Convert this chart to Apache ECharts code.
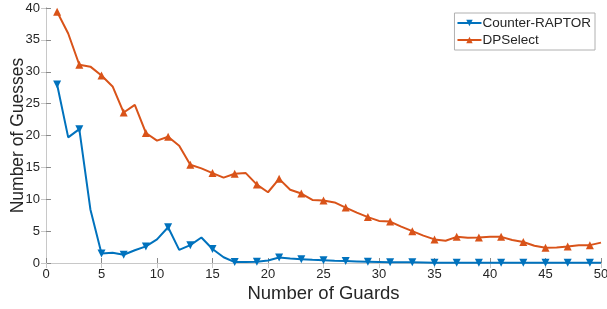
<!DOCTYPE html>
<html>
<head>
<meta charset="utf-8">
<script src="https://cdn.jsdelivr.net/npm/echarts@6/dist/echarts.min.js"></script>
<style>
  html, body { margin: 0; padding: 0; background: #fff; }
  #chart { width: 607px; height: 309px; }
</style>
</head>
<body>
<div id="chart"></div>
<script>
  // number of guards, 1..50
  var guards = [];
  for (var g = 1; g <= 50; g++) guards.push(g);

  var counterRaptor = [28.0, 19.7, 21.0, 8.4, 1.5, 1.6, 1.3, 2.0, 2.6, 3.7,
    5.6, 2.05, 2.8, 4.0, 2.2, 0.9, 0.15, 0.15, 0.2, 0.4,
    0.85, 0.7, 0.6, 0.5, 0.45, 0.35, 0.3, 0.25, 0.2, 0.15,
    0.1, 0.1, 0.1, 0.08, 0.05, 0.05, 0.05, 0.05, 0.05, 0.05,
    0.05, 0.04, 0.04, 0.04, 0.04, 0.03, 0.03, 0.03, 0.03, 0.03];

  var dpSelect = [39.4, 36.0, 31.1, 30.8, 29.4, 27.7, 23.6, 24.8, 20.4, 19.2,
    19.8, 18.4, 15.4, 14.85, 14.1, 13.4, 14.0, 14.1, 12.3, 11.1,
    13.2, 11.5, 10.9, 9.9, 9.8, 9.5, 8.7, 7.9, 7.2, 6.6,
    6.5, 5.7, 5.0, 4.3, 3.7, 3.5, 4.1, 3.95, 4.0, 4.1,
    4.1, 3.6, 3.3, 2.7, 2.4, 2.45, 2.6, 2.8, 2.8, 3.2];

  var xTicks = [0, 5, 10, 15, 20, 25, 30, 35, 40, 45, 50];
  var yTicks = [0, 5, 10, 15, 20, 25, 30, 35, 40];

  var axisColor = '#8a8a8a';
  var textColor = '#262626';
  var font = 'Liberation Sans, Arial, sans-serif';

  // markers on every other point, like the original plot
  function toPoints(vals) {
    return guards.map(function (x, i) {
      var p = { value: [x, vals[i]] };
      if (x % 2 === 0) p.symbol = 'none';
      return p;
    });
  }

  var chart = echarts.init(document.getElementById('chart'));
  chart.setOption({
    animation: false,
    grid: { left: 46, right: 6, top: 8, bottom: 46, outerBoundsMode: 'none', containLabel: false },
    legend: {
      right: 12, top: 13,
      orient: 'vertical',
      backgroundColor: '#fff',
      borderColor: '#b0b0b0',
      borderWidth: 1,
      borderRadius: 0,
      padding: [3, 4, 3, 2],
      itemGap: 3,
      itemWidth: 24,
      itemHeight: 8,
      textStyle: { fontFamily: font, fontSize: 13.5, color: textColor, padding: [0, 0, 0, -4] },
      data: ['Counter-RAPTOR', 'DPSelect']
    },
    xAxis: [{
      type: 'value', min: xTicks[0], max: xTicks[xTicks.length - 1], interval: 5,
      name: 'Number of Guards', nameLocation: 'middle', nameGap: 21, nameMoveOverlap: false,
      nameTextStyle: { fontFamily: font, fontSize: 18.5, color: textColor },
      axisLine: { show: true, lineStyle: { color: axisColor, width: 1 } },
      axisTick: { show: true, inside: true, length: 5, lineStyle: { color: axisColor } },
      axisLabel: { fontFamily: font, fontSize: 13, color: textColor, margin: 5 },
      splitLine: { show: false }
    }, {
      type: 'value', position: 'top', min: 0, max: 50, interval: 5,
      axisLine: { show: true, lineStyle: { color: '#c8c8c8', width: 1 } },
      axisTick: { show: true, inside: true, length: 5, lineStyle: { color: '#c8c8c8' } },
      axisLabel: { show: false }, splitLine: { show: false }
    }],
    yAxis: [{
      type: 'value', min: yTicks[0], max: yTicks[yTicks.length - 1], interval: 5,
      name: 'Number of Guesses', nameLocation: 'middle', nameGap: 19, nameMoveOverlap: false,
      nameTextStyle: { fontFamily: font, fontSize: 17.5, color: textColor },
      axisLine: { show: true, lineStyle: { color: axisColor, width: 1 } },
      axisTick: { show: true, inside: true, length: 5, lineStyle: { color: axisColor } },
      axisLabel: { fontFamily: font, fontSize: 13, color: textColor, margin: 6 },
      splitLine: { show: false }
    }, {
      type: 'value', position: 'right', min: 0, max: 40, interval: 5,
      axisLine: { show: true, lineStyle: { color: '#c8c8c8', width: 1 } },
      axisTick: { show: true, inside: true, length: 5, lineStyle: { color: '#c8c8c8' } },
      axisLabel: { show: false }, splitLine: { show: false }
    }],
    series: [{
      name: 'Counter-RAPTOR',
      type: 'line',
      data: toPoints(counterRaptor),
      symbol: 'triangle',
      symbolSize: 8,
      symbolRotate: 180,
      showAllSymbol: true,
      color: '#0072BD',
      lineStyle: { width: 2 },
      itemStyle: { color: '#0072BD' },
      z: 3
    }, {
      name: 'DPSelect',
      type: 'line',
      data: toPoints(dpSelect),
      symbol: 'triangle',
      symbolSize: 8,
      showAllSymbol: true,
      color: '#D95319',
      lineStyle: { width: 2 },
      itemStyle: { color: '#D95319' },
      z: 2
    }]
  });
</script>
</body>
</html>
